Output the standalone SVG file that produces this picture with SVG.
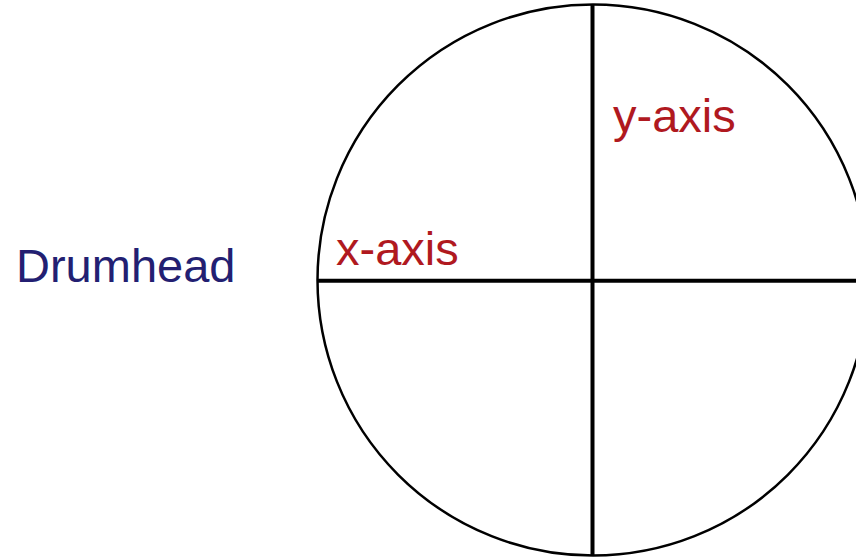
<svg xmlns="http://www.w3.org/2000/svg" width="856" height="559" viewBox="0 0 856 559">
<style>
.lbl{font-family:"Liberation Sans",Arial,sans-serif;font-size:47px}
.axis{fill:#b0191f}
.title{fill:#231f72}
</style>
<rect width="856" height="559" fill="#fff"/>
<g id="drumhead-circle">
<circle cx="593" cy="280" r="275.5" fill="none" stroke="#000" stroke-width="2.5"/>
</g>
<g id="connectors">
<line x1="592.5" y1="5" x2="592.5" y2="555" stroke="#000" stroke-width="4"/>
<line x1="317" y1="280.7" x2="856" y2="280.7" stroke="#000" stroke-width="4"/>
</g>
<g id="label-drumhead"><text class="lbl title" x="16" y="282">Drumhead</text></g>
<g id="label-x-axis"><text class="lbl axis" x="336" y="265">x-axis</text></g>
<g id="label-y-axis"><text class="lbl axis" x="613" y="132">y-axis</text></g>
</svg>
